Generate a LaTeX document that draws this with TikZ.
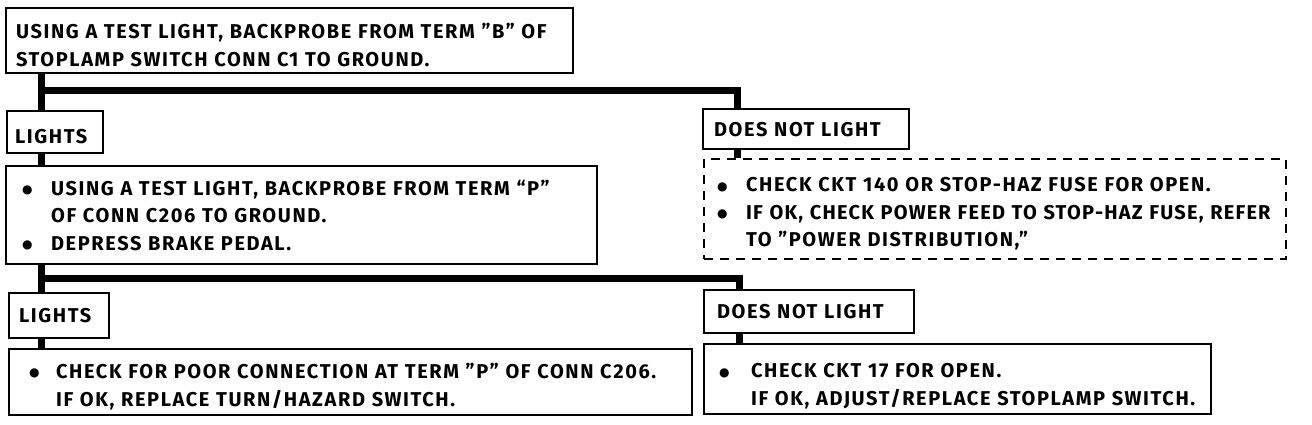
\documentclass[tikz,border=0pt]{standalone}
\usepackage{fontspec}
\setmainfont{Fira Sans}[LetterSpace=8]
\newfontfamily\symfont{DejaVu Sans}
\newcommand{\bul}[1]{\makebox[#1][l]{\raisebox{1.5pt}{\symfont\fontsize{12}{12}\selectfont ●}}}
\newcommand{\tstrut}{\rule{0pt}{24pt}}
\begin{document}
\begin{tikzpicture}[x=1pt,y=-1pt,
  txt/.style={font=\fontsize{20}{27.5}\selectfont\bfseries},
  box/.style={txt, draw, line width=2.2pt, anchor=north west, inner ysep=0pt, align=left, fill=white},
  dbox/.style={box, dash pattern=on 9pt off 7pt},
  bar/.style={line width=7pt, line join=miter}]
\useasboundingbox (0,0) rectangle (1312,424);
% stems
\coordinate (sl) at (41,0);
\coordinate (sr1) at (737,0);
\coordinate (sr2) at (739,0);
\coordinate (j1) at (0,90);
\coordinate (j2) at (0,278);
% boxes
\node[box, minimum width=567pt, minimum height=65pt, inner xsep=10pt, text width=547pt] (b1) at (5,7)
  {\tstrut USING A TEST LIGHT, BACKPROBE FROM TERM "B" OF\\STOPLAMP SWITCH CONN C1 TO GROUND.};
\node[box, minimum width=96pt, minimum height=42pt, inner xsep=8pt, text width=80pt] (l1) at (6,110) {\tstrut LIGHTS};
\node[box, minimum width=206pt, minimum height=40pt, inner xsep=11pt, text width=184pt] (d1) at (702,108) {DOES NOT LIGHT};
\node[box, minimum width=591pt, minimum height=98pt, inner xsep=16pt, text width=559pt] (b2) at (5,165)
  {\bul{29pt}USING A TEST LIGHT, BACKPROBE FROM TERM “P”\\
   \hspace*{29pt}OF CONN C206 TO GROUND.\\
   \bul{29pt}DEPRESS BRAKE PEDAL.};
\node[dbox, minimum width=582pt, minimum height=100pt, inner xsep=13pt, text width=556pt] (b3) at (703,158)
  {\tstrut\bul{29pt}CHECK CKT 140 OR STOP-HAZ FUSE FOR OPEN.\\
   \bul{29pt}\mbox{\addfontfeatures{LetterSpace=6}IF OK, CHECK POWER FEED TO STOP-HAZ FUSE, REFER}\\
   \hspace*{29pt}TO "POWER DISTRIBUTION,"};
\node[box, minimum width=100pt, minimum height=45pt, inner xsep=10pt, text width=80pt] (l2) at (8,292) {LIGHTS};
\node[box, minimum width=210pt, minimum height=43pt, inner xsep=13pt, text width=184pt] (d2) at (703,289) {DOES NOT LIGHT};
\node[box, minimum width=683pt, minimum height=66pt, inner xsep=20pt, text width=643pt] (b4) at (8,348)
  {\tstrut\bul{27pt}CHECK FOR POOR CONNECTION AT TERM "P" OF CONN C206.\\[1pt]
   \hspace*{27pt}IF OK, REPLACE TURN/HAZARD SWITCH.};
\node[box, minimum width=507pt, minimum height=70pt, inner xsep=15pt, text width=477pt] (b5) at (703,343)
  {\rule{0pt}{28pt}\bul{32pt}CHECK CKT 17 FOR OPEN.\\
   \hspace*{32pt}IF OK, ADJUST/REPLACE STOPLAMP SWITCH.};
% connectors
\draw[bar] (sl |- b1.south) -- (sl |- l1.north);
\draw[bar] (sl |- j1) -| (sr1 |- d1.north);
\draw[bar] (sl |- l1.south) -- (sl |- b2.north);
\draw[bar] (sr1 |- d1.south) -- (sr1 |- b3.north);
\draw[bar] (sl |- b2.south) -- (sl |- l2.north);
\draw[bar] (sl |- j2) -| (sr2 |- d2.north);
\draw[bar] (sl |- l2.south) -- (sl |- b4.north);
\draw[bar] (sr2 |- d2.south) -- (sr2 |- b5.north);
\end{tikzpicture}
\end{document}
